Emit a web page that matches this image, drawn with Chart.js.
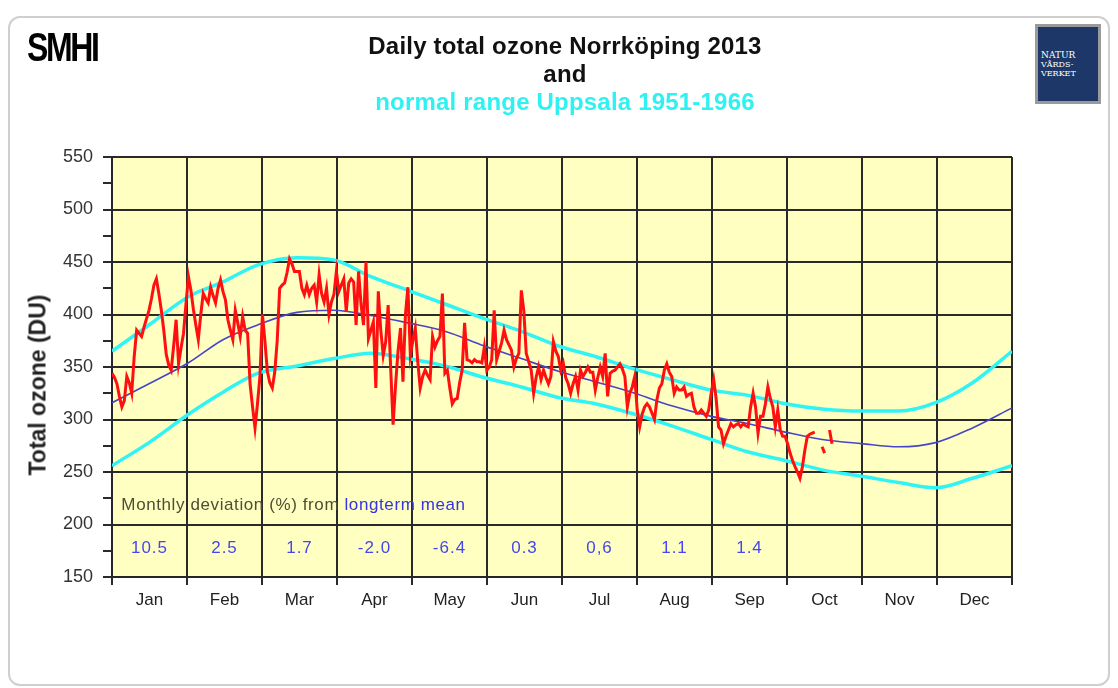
<!DOCTYPE html>
<html>
<head>
<meta charset="utf-8">
<script src="https://cdn.jsdelivr.net/npm/chart.js@4.4.0/dist/chart.umd.min.js"></script>
<style>
    html, body { margin: 0; padding: 0; background: #fff; }
    #page { position: relative; width: 1118px; height: 688px; overflow: hidden; font-family: 'Liberation Sans', Arial, sans-serif; }
    #card { position: absolute; left: 8px; top: 16px; width: 1098px; height: 666px; border: 2px solid #cfcfcf; border-radius: 12px; }
    #chart-box { position: absolute; left: 0; top: 0; width: 1118px; height: 688px; }
    .title { position: absolute; left: 0; width: 1130px; text-align: center; font-weight: bold; font-size: 24px; letter-spacing: 0.2px; color: #111; }
    #ytitle { position: absolute; left: 38px; top: 385px; transform: translate(-50%, -50%) rotate(-90deg); white-space: nowrap; font-weight: bold; font-size: 23px; color: #222; }
    #smhi { position: absolute; left: 27px; top: 24px; font-family: 'Liberation Sans', Arial, sans-serif; font-weight: 900; font-size: 41px; letter-spacing: -3px; color: #000; transform: scaleX(0.78); transform-origin: left top; }
    #natur { position: absolute; left: 1035px; top: 24px; width: 60px; height: 72px; background: #1d3768; border: 3px solid #9a9a9a; color: #fff; font-family: 'DejaVu Serif', serif; font-size: 8px; line-height: 9px; padding-top: 2px; box-sizing: content-box; }
    #natur div { padding-left: 3px; }
</style>
</head>
<body>
<div id="page">
    <div id="card"></div>
    <div id="chart-box"><canvas id="ozone-chart"></canvas></div>
    <div id="smhi">SMHI</div>
    <div class="title" style="top:32px;">Daily total ozone Norrköping 2013</div>
    <div class="title" style="top:60px;">and</div>
    <div class="title" style="top:88px; color:#2ef2f2;">normal range Uppsala 1951-1966</div>
    <div id="ytitle">Total ozone (DU)</div>
    <div id="natur"><div style="margin-top:22px;font-size:9px;">NATUR</div><div>VÅRDS-</div><div>VERKET</div></div>
</div>
<script>
const monthLabels = ['Jan', 'Feb', 'Mar', 'Apr', 'May', 'Jun', 'Jul', 'Aug', 'Sep', 'Oct', 'Nov', 'Dec'];

// monthly deviation (%) from longterm mean, Jan..Sep
const deviation = ['10.5', '2.5', '1.7', '-2.0', '-6.4', '0.3', '0,6', '1.1', '1.4'];

// daily total ozone Norrköping 2013 (DU), day 0 = 1 Jan, null = missing
const ozone2013 = [
    344, 340, 334, 322, 312, 318, 341, 335, 325, 360,
    385, 382, 379, 388, 396, 404, 415, 428, 434, 420,
    404, 385, 362, 352, 347, 370, 395, 353, 368, 382,
    410, 436, 423, 405, 390, 376, 400, 420, 415, 411,
    426, 418, 411, 425, 433, 422, 414, 395, 385, 376,
    404, 392, 379, 398, 385, 382, 334, 312, 292, 315,
    341, 400, 375, 346, 335, 330, 345, 375, 425, 428,
    430, 440, 453, 448, 441, 441, 441, 425, 419, 428,
    419, 425, 428, 412, 438, 420, 412, 425, 400, 412,
    419, 441, 422, 428, 434, 403, 430, 434, 431, 390,
    441, 410, 390, 450, 377, 385, 393, 330, 422, 385,
    361, 374, 409, 350, 295, 333, 365, 387, 336, 400,
    426, 361, 375, 387, 355, 330, 341, 347, 342, 338,
    379, 369, 375, 379, 420, 344, 347, 330, 315, 319,
    320, 335, 347, 392, 357, 356, 354, 357, 355, 355,
    354, 369, 347, 350, 357, 404, 357, 365, 373, 385,
    376, 371, 366, 350, 358, 363, 423, 404, 363, 355,
    347, 325, 340, 350, 338, 347, 340, 334, 341, 374,
    365, 360, 347, 354, 340, 334, 325, 334, 341, 328,
    347, 341, 345, 350, 345, 345, 328, 340, 350, 341,
    363, 322, 344, 346, 347, 350, 353, 348, 341, 312,
    325, 331, 341, 309, 293, 305, 312, 315, 312, 306,
    300, 319, 330, 334, 347, 353, 345, 341, 325, 331,
    328, 328, 331, 322, 324, 325, 312, 306, 306, 309,
    306, 303, 309, 325, 338, 320, 293, 290, 277, 284,
    290, 296, 293, 295, 296, 293, 296, 294, 293, 312,
    325, 312, 287, 303, 303, 315, 331, 320, 312, 293,
    309, 290, 284, 284, 277, 268, 261, 255, 250, 244,
    255, 271, 284, 286, 287, 288, null, null, 274, 268,
    null, 290, 277
];

// normal range Uppsala 1951-1966, read at about half-month steps
const normDays  = [0, 15, 31, 45, 59, 75, 90, 105, 120, 135, 151, 166, 181, 196, 212, 227, 243, 258, 273, 288, 304, 319, 334, 349, 365];
const normUpper = [365, 390, 417, 431, 447, 454, 452, 436, 423, 410, 396, 384, 370, 360, 348, 338, 328, 323, 315, 310, 308, 308, 316, 335, 365];
const normMean  = [316, 334, 354, 376, 390, 402, 404, 399, 392, 384, 370, 358, 346, 336, 325, 313, 303, 296, 288, 281, 277, 274, 278, 292, 311];
const normLower = [256, 278, 305, 326, 344, 351, 358, 363, 358, 351, 340, 331, 321, 315, 305, 294, 281, 269, 261, 252, 246, 240, 235, 244, 256];

const DAYS = 365;
const monthLen = DAYS / 12;

let ozoneChart = null;

function toPoints(days, values) {
    return values.map((v, i) => ({ x: days[i], y: v }));
}

const plotBackground = {
    id: 'plotBackground',
    beforeDraw(chart) {
        const { ctx, chartArea } = chart;
        ctx.save();
        ctx.fillStyle = '#ffffc2';
        ctx.fillRect(chartArea.left, chartArea.top, chartArea.right - chartArea.left, chartArea.bottom - chartArea.top);
        ctx.restore();
    }
};

const deviationText = {
    id: 'deviationText',
    afterDatasetsDraw(chart) {
        const { ctx } = chart;
        const xs = chart.scales.x;
        const ys = chart.scales.y;
        ctx.save();
        ctx.font = '17px "Liberation Sans", Arial, sans-serif';
        ctx.letterSpacing = '0.6px';
        ctx.textBaseline = 'middle';
        ctx.textAlign = 'left';
        const y1 = ys.getPixelForValue(218);
        const part1 = 'Monthly deviation (%) from ';
        const x0 = xs.getPixelForValue(3.8);
        ctx.fillStyle = '#4e4e34';
        ctx.fillText(part1, x0, y1);
        ctx.fillStyle = '#3434e6';
        ctx.fillText('longterm mean', x0 + ctx.measureText(part1).width, y1);

        ctx.textAlign = 'center';
        ctx.fillStyle = '#4646ee';
        ctx.letterSpacing = '1px';
        const y2 = ys.getPixelForValue(177);
        deviation.forEach((d, i) => {
            ctx.fillText(d, xs.getPixelForValue(i * monthLen + monthLen / 2), y2);
        });
        ctx.restore();
    }
};

function initChart() {
    const edges = [];
    const mids = [];
    for (let i = 0; i <= 12; i++) edges.push(i * monthLen);
    for (let i = 0; i < 12; i++) mids.push(i * monthLen + monthLen / 2);
    const isEdge = (v) => edges.some((e) => Math.abs(e - v) < 0.01);

    const ctx = document.getElementById('ozone-chart').getContext('2d');
    ozoneChart = new Chart(ctx, {
        type: 'line',
        data: {
            datasets: [
                {
                    label: 'Norrköping 2013',
                    data: ozone2013.map((v, i) => ({ x: i, y: v })),
                    borderColor: '#ff0f0f',
                    borderWidth: 3,
                    spanGaps: false
                },
                {
                    label: 'mean',
                    data: toPoints(normDays, normMean),
                    borderColor: '#4646c8',
                    borderWidth: 1.6,
                    cubicInterpolationMode: 'monotone'
                },
                {
                    label: 'upper',
                    data: toPoints(normDays, normUpper),
                    borderColor: '#30f4f4',
                    borderWidth: 3.5,
                    cubicInterpolationMode: 'monotone'
                },
                {
                    label: 'lower',
                    data: toPoints(normDays, normLower),
                    borderColor: '#30f4f4',
                    borderWidth: 3.5,
                    cubicInterpolationMode: 'monotone'
                }
            ]
        },
        options: {
            responsive: true,
            maintainAspectRatio: false,
            animation: false,
            layout: { padding: { top: 157, right: 106, left: 0, bottom: 0 } },
            elements: {
                point: { radius: 0 },
                line: { tension: 0 }
            },
            plugins: {
                legend: { display: false },
                tooltip: { enabled: false }
            },
            scales: {
                x: {
                    type: 'linear',
                    min: 0,
                    max: DAYS,
                    afterBuildTicks: (scale) => {
                        scale.ticks = edges.concat(mids).sort((a, b) => a - b).map((v) => ({ value: v }));
                    },
                    afterFit: (scale) => { scale.height = 111; },
                    border: { color: '#262626', width: 2 },
                    grid: {
                        color: (c) => isEdge(c.tick.value) ? '#2a2a2a' : 'rgba(0,0,0,0)',
                        tickColor: (c) => isEdge(c.tick.value) ? '#2a2a2a' : 'rgba(0,0,0,0)',
                        lineWidth: 2,
                        tickLength: 8
                    },
                    ticks: {
                        autoSkip: false,
                        maxRotation: 0,
                        padding: 5,
                        color: '#222',
                        font: { family: '"Liberation Sans", Arial, sans-serif', size: 17 },
                        callback: (v) => {
                            if (isEdge(v)) return '';
                            return monthLabels[Math.floor(v / monthLen)];
                        }
                    }
                },
                y: {
                    min: 150,
                    max: 550,
                    afterFit: (scale) => { scale.width = 112; },
                    border: { color: '#262626', width: 2 },
                    grid: {
                        color: (c) => c.tick.value % 50 === 0 ? '#2a2a2a' : 'rgba(0,0,0,0)',
                        tickColor: '#2a2a2a',
                        lineWidth: 2,
                        tickLength: 9
                    },
                    ticks: {
                        stepSize: 25,
                        autoSkip: false,
                        padding: 10,
                        color: '#333',
                        font: { family: '"Liberation Sans", Arial, sans-serif', size: 18 },
                        callback: (v) => v % 50 === 0 ? v : ''
                    }
                }
            }
        },
        plugins: [plotBackground, deviationText]
    });
}

initChart();
</script>
</body>
</html>
